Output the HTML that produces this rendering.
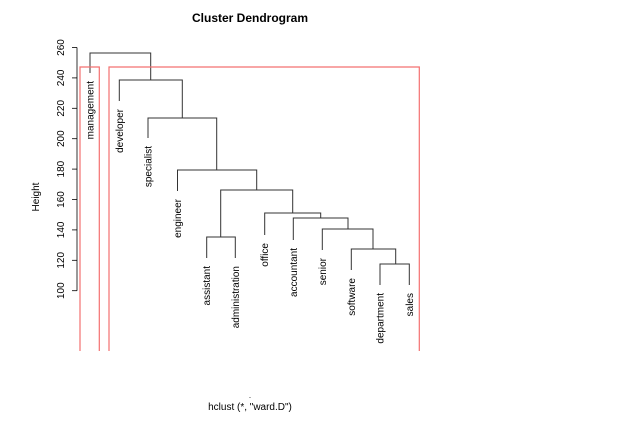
<!DOCTYPE html>
<html><head><meta charset="utf-8"><style>html,body{margin:0;padding:0;background:#fff}svg{display:block}text{font-family:"Liberation Sans",sans-serif;fill:#000}</style></head><body>
<svg width="629" height="430" viewBox="0 0 629 430" xmlns="http://www.w3.org/2000/svg">
<text x="250" y="22" font-size="12" font-weight="bold" text-anchor="middle">Cluster Dendrogram</text>
<text x="250" y="410" font-size="10" text-anchor="middle">hclust (*, "ward.D")</text>
<text x="250" y="398" font-size="8" text-anchor="middle">.</text>
<text transform="translate(39,197) rotate(-90)" font-size="10" text-anchor="middle">Height</text>
<g stroke="#000" stroke-width="0.8" fill="none">
<line x1="77" y1="47.5" x2="77" y2="290.7"/>
<line x1="72" y1="47.5" x2="77" y2="47.5"/>
<line x1="72" y1="77.9" x2="77" y2="77.9"/>
<line x1="72" y1="108.3" x2="77" y2="108.3"/>
<line x1="72" y1="138.7" x2="77" y2="138.7"/>
<line x1="72" y1="169.1" x2="77" y2="169.1"/>
<line x1="72" y1="199.5" x2="77" y2="199.5"/>
<line x1="72" y1="229.9" x2="77" y2="229.9"/>
<line x1="72" y1="260.3" x2="77" y2="260.3"/>
<line x1="72" y1="290.7" x2="77" y2="290.7"/>
</g>
<g font-size="10" text-anchor="middle">
<text transform="translate(64,47.5) rotate(-90)">260</text>
<text transform="translate(64,77.9) rotate(-90)">240</text>
<text transform="translate(64,108.3) rotate(-90)">220</text>
<text transform="translate(64,138.7) rotate(-90)">200</text>
<text transform="translate(64,169.1) rotate(-90)">180</text>
<text transform="translate(64,199.5) rotate(-90)">160</text>
<text transform="translate(64,229.9) rotate(-90)">140</text>
<text transform="translate(64,260.3) rotate(-90)">120</text>
<text transform="translate(64,290.7) rotate(-90)">100</text>
</g>
<g stroke="#333" stroke-width="1" fill="none">
<path d="M90,73 V53 H150.7 V80"/>
<path d="M119.3,101 V80 H182.3 V118"/>
<path d="M148,138 V118 H216.7 V170"/>
<path d="M177.5,191 V170 H256.7 V190"/>
<path d="M220.7,237 V190 H292.7 V213"/>
<path d="M206.7,258 V237 H235.3 V258"/>
<path d="M264.7,235 V213 H320.7 V218"/>
<path d="M293.3,240 V218 H348 V229"/>
<path d="M322.3,250 V229 H373 V249"/>
<path d="M351.3,270 V249 H395.7 V264"/>
<path d="M380,285 V264 H409.3 V285"/>
</g>
<g font-size="10" text-anchor="end">
<text transform="translate(93.5,81) rotate(-90)">management</text>
<text transform="translate(122.8,109) rotate(-90)">developer</text>
<text transform="translate(151.5,146) rotate(-90)">specialist</text>
<text transform="translate(181,199) rotate(-90)">engineer</text>
<text transform="translate(210.2,266) rotate(-90)">assistant</text>
<text transform="translate(238.8,266) rotate(-90)">administration</text>
<text transform="translate(268.2,243) rotate(-90)">office</text>
<text transform="translate(296.8,248) rotate(-90)">accountant</text>
<text transform="translate(325.8,258) rotate(-90)">senior</text>
<text transform="translate(354.8,278) rotate(-90)">software</text>
<text transform="translate(383.5,293) rotate(-90)">department</text>
<text transform="translate(412.8,293) rotate(-90)">sales</text>
</g>
<g stroke="#f47070" stroke-width="1.2" fill="none">
<path d="M80,351 V67 H99.3 V351"/>
<path d="M109,351 V67 H419.3 V351"/>
</g>
</svg>
</body></html>
